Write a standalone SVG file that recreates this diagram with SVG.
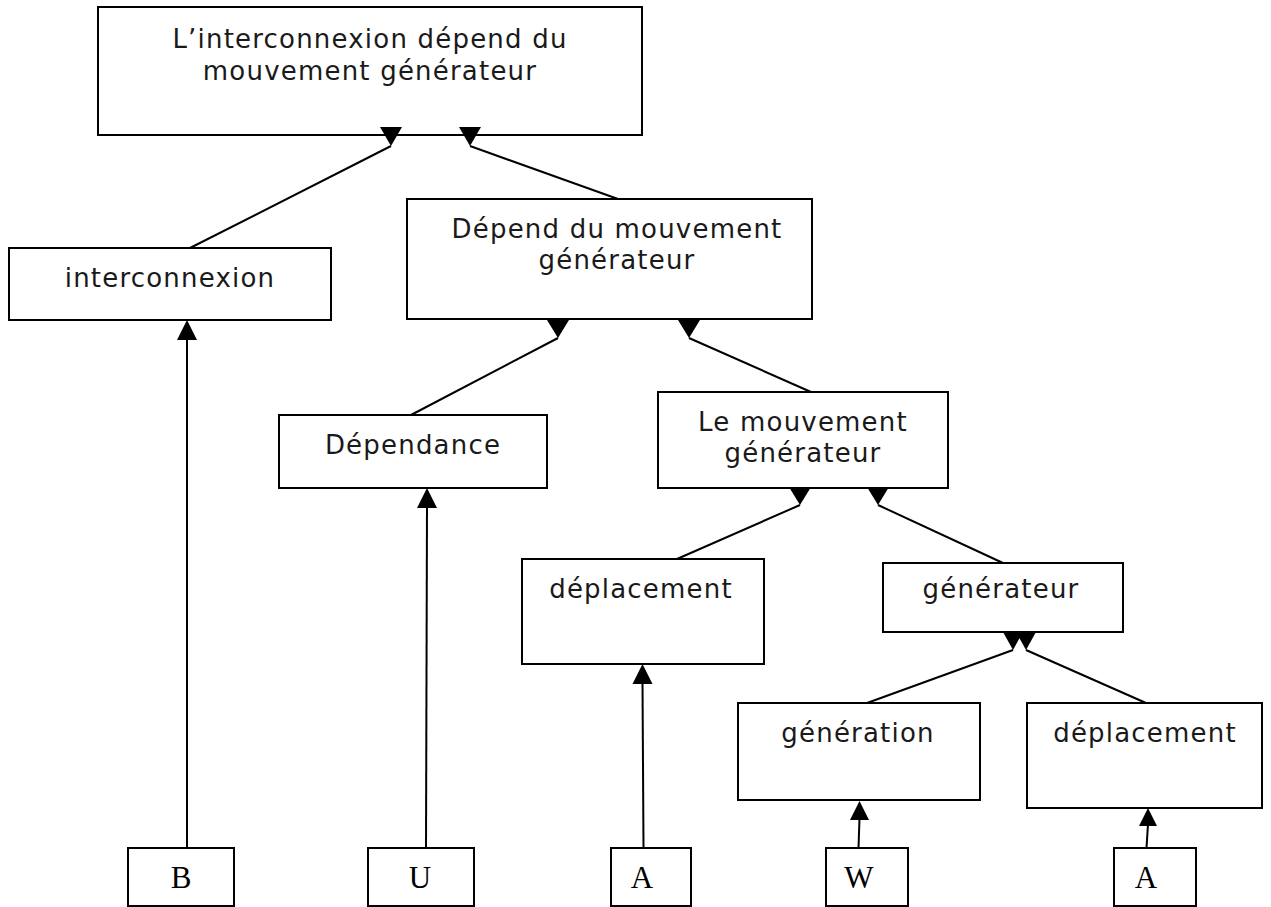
<svg xmlns="http://www.w3.org/2000/svg" width="1271" height="907" viewBox="0 0 1271 907">
  <style>
    .box { fill: #ffffff; stroke: #000000; stroke-width: 2; }
    .lbl { font-family: "DejaVu Sans", "Liberation Sans", sans-serif; font-size: 26px; letter-spacing: 1.2px; fill: #1a1a1a; text-anchor: middle; }
    .leaf { font-family: "Liberation Serif", serif; font-size: 31px; fill: #000000; text-anchor: middle; }
    .edge { stroke: #000000; stroke-width: 2; fill: none; }
    .head { fill: #000000; stroke: none; }
  </style>
  <rect width="1271" height="907" fill="#ffffff"/>

  <!-- connectors -->
  <g id="connectors">
    <line class="edge" x1="190" y1="248" x2="391" y2="146"/>
    <line class="edge" x1="618" y1="199" x2="470" y2="146"/>
    <line class="edge" x1="411" y1="415" x2="558" y2="338"/>
    <line class="edge" x1="811" y1="392" x2="689" y2="338"/>
    <line class="edge" x1="677" y1="559" x2="800" y2="505"/>
    <line class="edge" x1="1003" y1="563" x2="878" y2="505"/>
    <line class="edge" x1="867" y1="703" x2="1013" y2="650"/>
    <line class="edge" x1="1146" y1="703" x2="1026" y2="650"/>
    <line class="edge" x1="187" y1="848" x2="187" y2="338"/>
    <line class="edge" x1="426" y1="848" x2="427" y2="506"/>
    <line class="edge" x1="643.5" y1="848" x2="642.5" y2="682"/>
    <line class="edge" x1="858.5" y1="848" x2="859.5" y2="818"/>
    <line class="edge" x1="1146.5" y1="848" x2="1148" y2="824"/>
  </g>

  <!-- nodes -->
  <g id="n-top">
    <rect class="box" x="98" y="7" width="544" height="128"/>
    <text class="lbl" x="370" y="48">L’interconnexion dépend du</text>
    <text class="lbl" x="370" y="80">mouvement générateur</text>
  </g>
  <g id="n-interconnexion">
    <rect class="box" x="9" y="248" width="322" height="72"/>
    <text class="lbl" x="170" y="287">interconnexion</text>
  </g>
  <g id="n-depend">
    <rect class="box" x="407" y="199" width="405" height="120"/>
    <text class="lbl" x="617" y="238">Dépend du mouvement</text>
    <text class="lbl" x="617" y="269">générateur</text>
  </g>
  <g id="n-dependance">
    <rect class="box" x="279" y="415" width="268" height="73"/>
    <text class="lbl" x="413" y="454">Dépendance</text>
  </g>
  <g id="n-mouvement">
    <rect class="box" x="658" y="392" width="290" height="96"/>
    <text class="lbl" x="803" y="431">Le mouvement</text>
    <text class="lbl" x="803" y="462">générateur</text>
  </g>
  <g id="n-deplacement-1">
    <rect class="box" x="522" y="559" width="242" height="105"/>
    <text class="lbl" x="641" y="598">déplacement</text>
  </g>
  <g id="n-generateur">
    <rect class="box" x="883" y="563" width="240" height="69"/>
    <text class="lbl" x="1001" y="598">générateur</text>
  </g>
  <g id="n-generation">
    <rect class="box" x="738" y="703" width="242" height="97"/>
    <text class="lbl" x="858" y="742">génération</text>
  </g>
  <g id="n-deplacement-2">
    <rect class="box" x="1027" y="703" width="235" height="105"/>
    <text class="lbl" x="1145" y="742">déplacement</text>
  </g>
  <g id="n-b">
    <rect class="box" x="128" y="848" width="106" height="58"/>
    <text class="leaf" x="181" y="888">B</text>
  </g>
  <g id="n-u">
    <rect class="box" x="368" y="848" width="106" height="58"/>
    <text class="leaf" x="420" y="888">U</text>
  </g>
  <g id="n-a-1">
    <rect class="box" x="611" y="848" width="80" height="58"/>
    <text class="leaf" x="642" y="888">A</text>
  </g>
  <g id="n-w">
    <rect class="box" x="826" y="848" width="82" height="58"/>
    <text class="leaf" x="859" y="888">W</text>
  </g>
  <g id="n-a-2">
    <rect class="box" x="1114" y="848" width="82" height="58"/>
    <text class="leaf" x="1146" y="888">A</text>
  </g>

  <!-- arrowheads -->
  <g id="arrowheads">
    <polygon class="head" points="380,127 402,127 391,146"/>
    <polygon class="head" points="459,127 481,127 470,146"/>
    <polygon class="head" points="547,320 569,320 558,338"/>
    <polygon class="head" points="678,320 700,320 689,338"/>
    <polygon class="head" points="789,487 811,487 800,505"/>
    <polygon class="head" points="867,487 889,487 878,505"/>
    <polygon class="head" points="1003,632 1023,632 1013,650"/>
    <polygon class="head" points="1016,632 1036,632 1026,650"/>
    <polygon class="head" points="177,340 197,340 187,320"/>
    <polygon class="head" points="417,508 437,508 427,488"/>
    <polygon class="head" points="632.5,684 652.5,684 642.5,664"/>
    <polygon class="head" points="850,820 869,820 859.5,801"/>
    <polygon class="head" points="1139,826 1157,826 1148,808"/>
  </g>
</svg>
